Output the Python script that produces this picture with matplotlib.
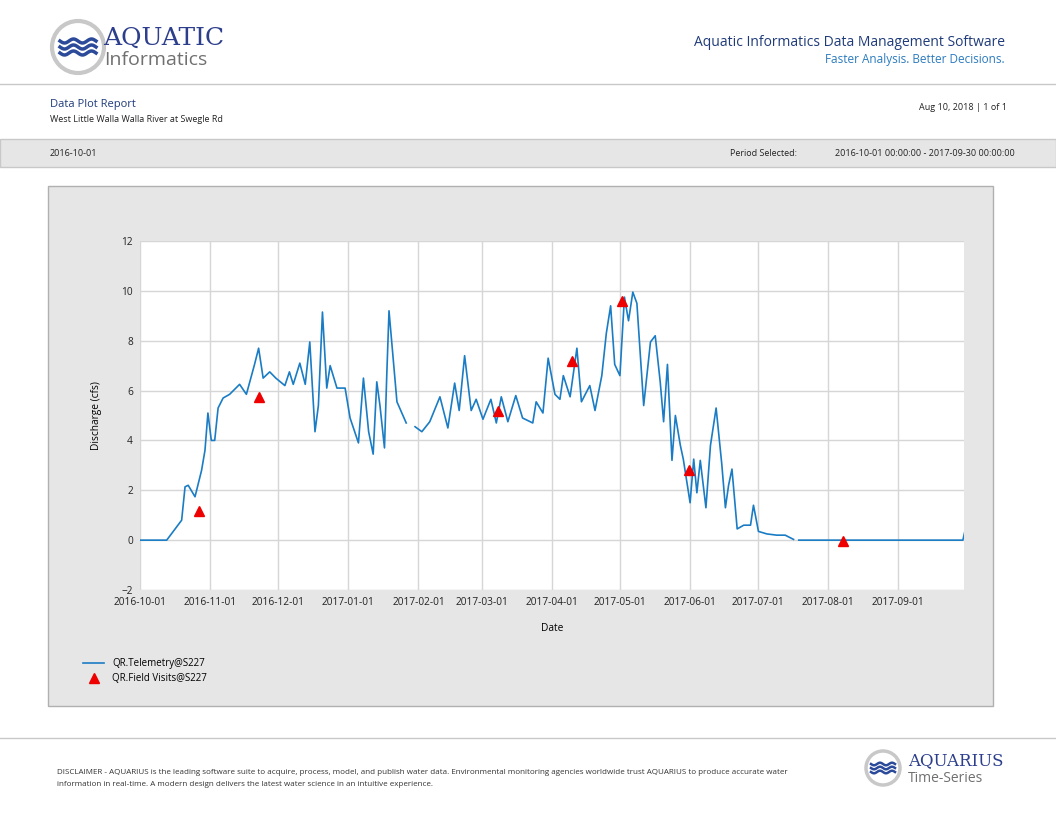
import matplotlib
matplotlib.use("Agg")
import matplotlib.pyplot as plt
import matplotlib.dates as mdates
from matplotlib.patches import Rectangle, Circle
import numpy as np
import pandas as pd

plt.rcParams["font.family"] = ["Open Sans", "DejaVu Sans"]

START = pd.Timestamp("2016-10-01")

# Telemetry discharge (cfs): day offset from 2016-10-01, value; None = gap
tele_days = [0, 11.8, 18.4, 19.9, 21.3, 24.3, 27.2, 28.7, 30, 31.5, 33, 34.5, 36.7, 39.6, 44, 47,
             50.6, 52.4, 54.4, 57.3, 60, 64, 66, 67.7, 70.6, 73, 75, 77.3, 78.8, 80.6, 82.5, 84,
             87, 90.6, 92.8, 96.5, 98.7, 101, 103, 104.6, 106, 108, 109, 110, 113.5, 117.6,
             119.5,
             121.5, 124.5, 128, 132.5, 136, 139, 141, 143.4, 146.3, 148.5, 151.5, 155, 157.4,
             159.6, 162.5, 166, 169, 173.5, 175, 178, 180.3, 183.3, 185.5, 187, 190, 193, 195,
             198.7, 201, 204, 206, 207.9, 209.7, 212, 214, 215.8, 217.7, 219.5, 222.5, 225.5,
             227.6, 229.8, 231.3, 233, 235, 236.5, 238.7, 240, 243, 244.6, 246, 247.5, 250, 252,
             254.5, 257, 258.6, 260, 261.5, 263.8, 266.7, 269.7, 271, 273.2, 276.9, 281.3, 285,
             288.7, 289.8,
             291, 363.5, 364.5]
tele_vals = [0, 0, 0.8, 2.14, 2.2, 1.74, 2.8, 3.6, 5.1, 4.0, 4.0, 5.3, 5.7, 5.85, 6.25, 5.85,
             7.05, 7.7, 6.5, 6.75, 6.5, 6.2, 6.75, 6.25, 7.1, 6.25, 7.95, 4.35, 5.4, 9.15, 6.1, 7.0,
             6.1, 6.1, 4.9, 3.9, 6.5, 4.35, 3.45, 6.35, 5.4, 3.7, 6.6, 9.2, 5.55, 4.7,
             None,
             4.55, 4.35, 4.75, 5.75, 4.5, 6.3, 5.2, 7.4, 5.2, 5.65, 4.85, 5.65, 4.7,
             5.75, 4.75, 5.8, 4.9, 4.7, 5.55, 5.1, 7.3, 5.85, 5.65, 6.6, 5.75, 7.7, 5.55,
             6.2, 5.2, 6.6, 8.3, 9.4, 7.05, 6.6, 9.75, 8.8, 9.95, 9.5, 5.4, 7.95,
             8.2, 6.35, 4.75, 7.05, 3.2, 5.0, 3.8, 3.25, 1.5, 3.25, 1.9, 3.2, 1.3, 3.8,
             5.3, 3.05, 1.3, 2.2, 2.85, 0.45, 0.6, 0.6, 1.4, 0.35, 0.25, 0.2, 0.2,
             0.03, None,
             0, 0, 0.4]

visit_days = [26, 52.5, 158, 191, 213, 242.5, 310.5]
visit_vals = [1.15, 5.75, 5.2, 7.2, 9.6, 2.8, -0.05]

y_ticks = [-2, 0, 2, 4, 6, 8, 10, 12]
x_tick_dates = ["2016-10-01", "2016-11-01", "2016-12-01", "2017-01-01", "2017-02-01",
                "2017-03-01", "2017-04-01", "2017-05-01", "2017-06-01", "2017-07-01",
                "2017-08-01", "2017-09-01"]

W, H = 1056, 816
fig = plt.figure(figsize=(W / 100, H / 100), dpi=100)
bg = fig.add_axes([0, 0, 1, 1])
bg.set_xlim(0, W)
bg.set_ylim(H, 0)
bg.axis("off")

# header
bg.add_patch(Circle((78, 47), 26, facecolor="white", edgecolor="#c8c8c8", lw=3))
for dy in (-6, 0, 6):
    xs = np.linspace(60, 96, 40)
    bg.plot(xs, 47 + dy + 2 * np.sin((xs - 60) / 36 * 4 * np.pi), color="#2c4a9a", lw=2.5)
bg.text(103, 38, "AQUATIC", fontsize=18, color="#2c3e8c", family="DejaVu Serif", va="center")
bg.text(104, 60, "Informatics", fontsize=14, color="#707070", va="center")
bg.text(1005, 42, "Aquatic Informatics Data Management Software", fontsize=10, color="#1f3b7a",
        ha="right", va="center")
bg.text(1005, 60, "Faster Analysis. Better Decisions.", fontsize=8.5, color="#2b7bbf",
        ha="right", va="center")
bg.plot([0, W], [84, 84], color="#c8c8c8", lw=1)
bg.text(50, 105, "Data Plot Report", fontsize=8, color="#1f3b7a", va="center")
bg.text(50, 120, "West Little Walla Walla River at Swegle Rd", fontsize=6.5, color="#222222",
        va="center")
bg.text(1007, 108, "Aug 10, 2018 | 1 of 1", fontsize=6.5, color="#222222", ha="right",
        va="center")
bg.add_patch(Rectangle((0, 139), W, 28, facecolor="#e6e6e6", edgecolor="#c8c8c8", lw=1))
bg.text(50, 153, "2016-10-01", fontsize=6.5, color="#222222", va="center")
bg.text(730, 153, "Period Selected:", fontsize=6.5, color="#222222", va="center")
bg.text(1015, 153, "2016-10-01 00:00:00 - 2017-09-30 00:00:00", fontsize=6.5, color="#222222",
        ha="right", va="center")

# plot panel
bg.add_patch(Rectangle((48, 186), 945, 520, facecolor="#e6e6e6", edgecolor="#b0b0b0", lw=1))

# footer
bg.plot([0, W], [738, 738], color="#c8c8c8", lw=1)
bg.text(57, 773, "DISCLAIMER - AQUARIUS is the leading software suite to acquire, process, model, "
        "and publish water data. Environmental monitoring agencies worldwide trust AQUARIUS to produce accurate water",
        fontsize=5.8, color="#333333", va="center")
bg.text(57, 785, "information in real-time. A modern design delivers the latest water science in an "
        "intuitive experience.", fontsize=5.8, color="#333333", va="center")
bg.add_patch(Circle((883, 768), 17, facecolor="white", edgecolor="#c8c8c8", lw=2.5))
for dy in (-4, 0, 4):
    xs = np.linspace(871, 895, 30)
    bg.plot(xs, 768 + dy + 1.3 * np.sin((xs - 871) / 24 * 4 * np.pi), color="#2c4a9a", lw=1.8)
bg.text(908, 761, "AQUARIUS", fontsize=12, color="#2c3e8c", family="DejaVu Serif", va="center")
bg.text(908, 778, "Time-Series", fontsize=10, color="#707070", va="center")

# chart axes
ax = fig.add_axes([140 / W, 1 - 590 / H, 824 / W, 349 / H])
ax.set_facecolor("white")
dates = [START + pd.Timedelta(days=d) for d in tele_days]
vals = [np.nan if v is None else v for v in tele_vals]
ax.plot(dates, vals, color="#1a7cc4", lw=1.2, label="QR.Telemetry@S227")
vdates = [START + pd.Timedelta(days=d) for d in visit_days]
ax.plot(vdates, visit_vals, linestyle="none", marker="^", color="#ee0000", markersize=7,
        label="QR.Field Visits@S227")
ax.set_xlim(START, START + pd.Timedelta(days=364))
ax.set_ylim(-2, 12)
ax.set_yticks(y_ticks)
ax.set_xticks([pd.Timestamp(d) for d in x_tick_dates])
ax.xaxis.set_major_formatter(mdates.DateFormatter("%Y-%m-%d"))
ax.tick_params(labelsize=7.3, length=0, colors="#222222", pad=5)
ax.grid(True, color="#d6d6d6", lw=1)
for s in ax.spines.values():
    s.set_visible(False)
ax.set_xlabel("Date", fontsize=7.3, labelpad=11)
ax.set_ylabel("Discharge (cfs)", fontsize=7.3, labelpad=14)
ax.legend(loc="upper left", bbox_to_anchor=(-0.08, -0.17), frameon=False, fontsize=7,
          handlelength=2.2, labelspacing=0.4)

fig.savefig("out.png", dpi=100)
